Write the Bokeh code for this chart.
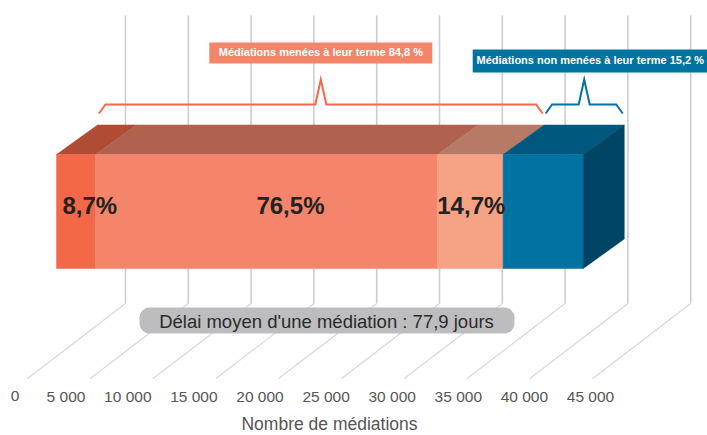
from bokeh.plotting import figure
from bokeh.models import Range1d
from bokeh.embed import file_html
from bokeh.resources import INLINE
from bokeh.core.properties import value

# ---------------- data ----------------
completed_values = [3100, 27230, 5230]          # médiations menées à leur terme (3 parts)
completed_labels = ["8,7%", "76,5%", "14,7%"]
not_completed_value = 6380                      # médiations non menées à leur terme
group_labels = ["Médiations menées à leur terme 84,8 %",
                "Médiations non menées à leur terme 15,2 %"]
tick_values = [0, 5000, 10000, 15000, 20000, 25000, 30000, 35000, 40000, 45000]
tick_labels = ["0", "5 000", "10 000", "15 000", "20 000", "25 000",
               "30 000", "35 000", "40 000", "45 000"]
delay_label = "Délai moyen d'une médiation : 77,9 jours"
axis_title = "Nombre de médiations"

# ---------------- layout / style ----------------
W, H = 707, 435
PX0 = 56                 # page x of value 0 on the bar's front plane
U = 5000 / 62.8          # data units per pixel
def ux(px):
    return px * U

def base(y, size):
    # baseline correction for the svg text rendering
    return y - 0.33 * size - 1

FONT = value("Liberation Sans")
front_cols = ["#F26849", "#F4846A", "#F5A285", "#0073A1"]
top_cols = ["#B04B34", "#B0624F", "#B57B67", "#00587E"]
side_col = "#004566"
orange = "#F26849"
blue = "#0073A1"

p = figure(width=W, height=H, output_backend="svg", toolbar_location=None,
           x_range=Range1d(-ux(PX0), ux(W - PX0)),
           y_range=Range1d(H, 0),
           x_axis_location=None, y_axis_location=None, min_border=0)
p.grid.visible = False
p.outline_line_color = None
p.background_fill_color = "white"
p.border_fill_color = "white"

# extra x scale for the oblique tick-label row
TK0, TKS = 18.8, 66.1 / 5000
p.extra_x_ranges = {"ticks": Range1d((0 - TK0) / TKS, (W - TK0) / TKS)}

# ---------------- grid (back wall + floor) ----------------
BACK = ux(69)
FLOOR = ux(-29)
p.multi_line(xs=[[t + BACK, t + BACK] for t in tick_values],
             ys=[[15, 303] for _ in tick_values],
             line_color="#CDCDCD", line_width=1.6)
p.multi_line(xs=[[t + BACK, t + FLOOR] for t in tick_values],
             ys=[[303, 378] for _ in tick_values],
             line_color="#D6D6D6", line_width=1.1)

# ---------------- bar ----------------
vals = completed_values + [not_completed_value]
edges = [0]
for v in vals:
    edges.append(edges[-1] + v)
total = edges[-1]
completed_total = edges[3]

FT, FB = 154, 268
DX, DY = ux(41), -29.5
BT, BB = FT + DY, FB + DY

p.patches(xs=[[edges[i], edges[i + 1], edges[i + 1] + DX, edges[i] + DX] for i in range(4)],
          ys=[[FT, FT, BT, BT] for i in range(4)],
          fill_color=top_cols, line_color=top_cols, line_width=0.5)
p.patches(xs=[[edges[i], edges[i + 1], edges[i + 1], edges[i]] for i in range(4)],
          ys=[[FT, FT, FB, FB] for i in range(4)],
          fill_color=front_cols, line_color=front_cols, line_width=0.5)
p.patch(x=[total, total + DX, total + DX, total], y=[FT, BT, BB, FB],
        fill_color=side_col, line_color=side_col, line_width=0.5)

# percentage labels on the front faces
lab_x = [edges[0] + ux(6),
         (edges[1] + edges[2]) / 2 + ux(24),
         (edges[2] + edges[3]) / 2 + ux(1)]
lab_align = ["left", "center", "center"]
for x, t, a in zip(lab_x, completed_labels, lab_align):
    p.text(x=[x], y=[base(214, 24)], text=[t], text_font=FONT, text_font_size="24px",
           text_font_style="bold", text_color="#222222", text_align=a,
           text_baseline="alphabetic")

# ---------------- brackets ----------------
INS, LEG, PK = ux(1.5), ux(6.5), ux(5.5)
spans = [(edges[0] + DX + INS, completed_total + DX - INS),
         (completed_total + DX + INS, total + DX - INS)]
br_cols = [orange, blue]
box_cols = ["#F4846A", blue]
box_half = [111.5, 117.5]
box_shift = [0, 6]
box_h = [21, 23]
box_cy = [52.5, 60.5]
for (a, b), col, bcol, lbl, hw, sh, bh, cy in zip(spans, br_cols, box_cols, group_labels,
                                                  box_half, box_shift, box_h, box_cy):
    c = (a + b) / 2
    p.line(x=[a, a + LEG, c - PK, c, c + PK, b - LEG, b],
           y=[113, 104, 104, 79, 104, 104, 113],
           line_color=col, line_width=2, line_join="miter")
    bc = c + ux(sh)
    p.quad(left=[bc - ux(hw)], right=[bc + ux(hw)], top=[cy - bh / 2], bottom=[cy + bh / 2],
           fill_color=bcol, line_color=None)
    p.text(x=[bc], y=[base(cy + 4, 11)], text=[lbl], text_font=FONT, text_font_size="11px",
           text_font_style="bold", text_color="white", text_align="center",
           text_baseline="alphabetic")

# ---------------- delay box ----------------
p.quad(left=[ux(139 - PX0)], right=[ux(514 - PX0)], top=[307], bottom=[333],
       fill_color="#BDBDBF", line_color=None, border_radius=10)
p.text(x=[ux(326 - PX0)], y=[base(328, 18.5)], text=[delay_label], text_font=FONT,
       text_font_size="18.5px", text_color="#2A2A2A", text_align="center",
       text_baseline="alphabetic")

# ---------------- tick labels & title ----------------
p.text(x=tick_values, y=[base(402, 15.5)] * len(tick_values), text=tick_labels,
       x_range_name="ticks", text_font=FONT, text_font_size="15.5px",
       text_color="#555555", text_align="right", text_baseline="alphabetic")
p.text(x=[ux(329 - PX0)], y=[base(430, 17.5)], text=[axis_title], text_font=FONT,
       text_font_size="17.5px", text_color="#555555", text_align="center",
       text_baseline="alphabetic")

open("out.html", "w").write(file_html(p, INLINE))
